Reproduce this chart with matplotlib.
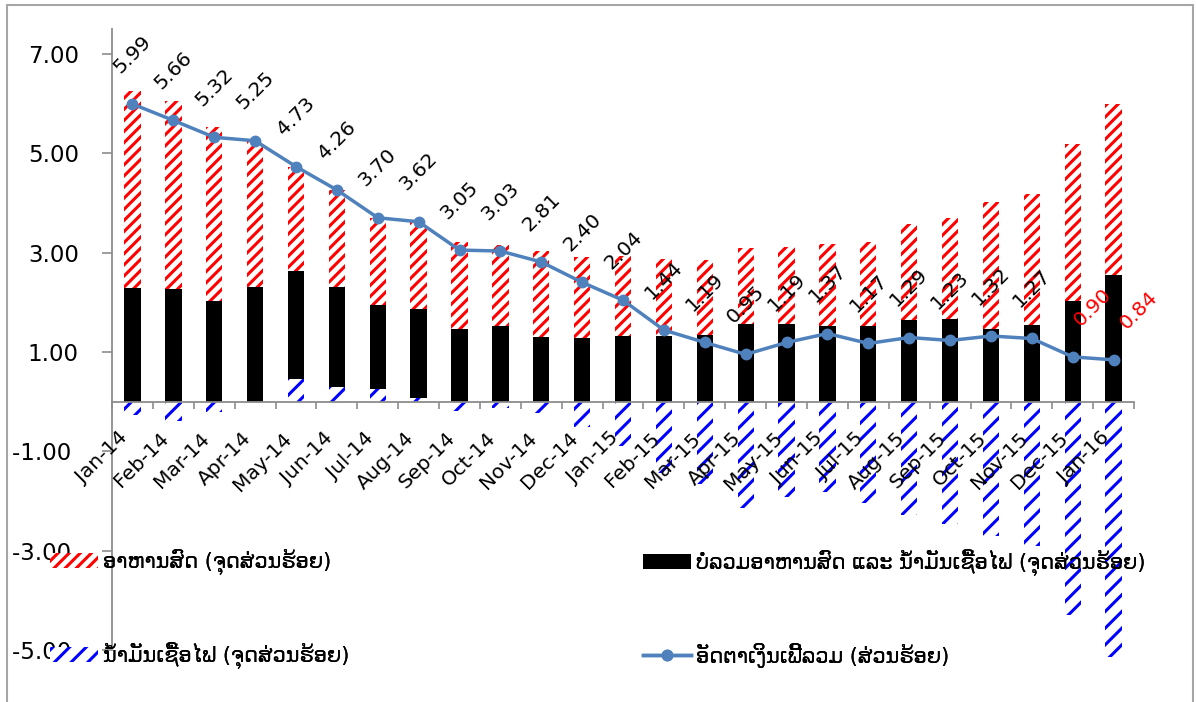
import matplotlib
matplotlib.use("Agg")
import matplotlib.pyplot as plt
import numpy as np
from matplotlib.patches import Rectangle
from matplotlib.transforms import ScaledTranslation

plt.rcParams['font.family'] = ['DejaVu Sans']
plt.rcParams['hatch.linewidth'] = 2.2

months = ['Jan-14', 'Feb-14', 'Mar-14', 'Apr-14', 'May-14', 'Jun-14', 'Jul-14',
          'Aug-14', 'Sep-14', 'Oct-14', 'Nov-14', 'Dec-14', 'Jan-15', 'Feb-15',
          'Mar-15', 'Apr-15', 'May-15', 'Jun-15', 'Jul-15', 'Aug-15', 'Sep-15',
          'Oct-15', 'Nov-15', 'Dec-15', 'Jan-16']
# contributions (percentage points)
food = [3.97, 3.78, 3.50, 2.94, 2.11, 1.94, 1.75, 1.75, 1.75, 1.62, 1.73, 1.63,
        1.61, 1.55, 1.49, 1.53, 1.55, 1.65, 1.69, 1.93, 2.03, 2.55, 2.63, 3.17, 3.45]
core = [2.29, 2.27, 2.03, 2.31, 2.16, 2.01, 1.69, 1.79, 1.47, 1.53, 1.31, 1.29,
        1.33, 1.33, 1.35, 1.57, 1.57, 1.53, 1.53, 1.65, 1.67, 1.47, 1.55, 2.02, 2.54]
fuel = [-0.28, -0.39, -0.21, 0.00, 0.46, 0.30, 0.26, 0.08, -0.18, -0.12, -0.23, -0.52,
        -0.90, -1.44, -1.65, -2.15, -1.93, -1.81, -2.05, -2.29, -2.47, -2.70, -2.91,
        -4.29, -5.15]
# headline inflation (percent)
headline = [5.99, 5.66, 5.32, 5.25, 4.73, 4.26, 3.70, 3.62, 3.05, 3.03, 2.81, 2.40,
            2.04, 1.44, 1.19, 0.95, 1.19, 1.37, 1.17, 1.29, 1.23, 1.32, 1.27, 0.90, 0.84]

yticks = [-5, -3, -1, 1, 3, 5, 7]
ytick_labels = ['-5.00 ', '-3.00 ', '-1.00 ', '1.00', '3.00', '5.00', '7.00']

lbl_food = 'ອາຫານສົດ (ຈຸດສ່ວນຮ້ອຍ)'
lbl_core = 'ບໍ່ລວມອາຫານສົດ ແລະ ນ້ຳມັນເຊື້ອໄຟ (ຈຸດສ່ວນຮ້ອຍ)'
lbl_fuel = 'ນ້ຳມັນເຊື້ອໄຟ (ຈຸດສ່ວນຮ້ອຍ)'
lbl_head = 'ອັດຕາເງິນເຟີ້ລວມ (ສ່ວນຮ້ອຍ)'

x = np.arange(len(months))
fuel_a = np.array(fuel)
core_a = np.array(core)
core_bottom = np.clip(fuel_a, 0, None)
food_bottom = core_bottom + core_a

fig = plt.figure(figsize=(11.97, 7.02), dpi=100)
ax = fig.add_axes([0.0936, 0.0741, 0.8538, 0.8846])
ax.set_axisbelow(False)

w = 0.4
b_fuel = ax.bar(x, fuel, w, facecolor='white', edgecolor='#0000FF', hatch='//',
                linewidth=0, zorder=2, clip_on=False)
b_core = ax.bar(x, core, w, bottom=core_bottom, color='black', linewidth=0, zorder=2)
b_food = ax.bar(x, food, w, bottom=food_bottom, facecolor='white', edgecolor='#FF0000',
                hatch='///', linewidth=0, zorder=2)
line, = ax.plot(x, headline, color='#4F81BD', lw=2.5, marker='o', ms=7.5,
                markeredgecolor='#4F81BD', zorder=4)

# data labels
label_dx = {23: 14, 24: 18}
for i, v in enumerate(headline):
    col = '#FF0000' if i >= 23 else 'black'
    ax.annotate(f'{v:.2f}', (x[i], v), xytext=(label_dx.get(i, 0), 36),
                textcoords='offset points', ha='center', va='center',
                rotation=45, fontsize=14.5, color=col, zorder=5)

ax.set_xlim(-0.5, len(months) - 0.5)
ax.set_ylim(-5, 7.5)

gray = '#8C8C8C'
for s in ['top', 'right']:
    ax.spines[s].set_visible(False)
ax.spines['left'].set_color(gray)
ax.spines['bottom'].set_color(gray)
ax.spines['left'].set_linewidth(1.3)
ax.spines['bottom'].set_linewidth(1.3)
ax.spines['bottom'].set_position(('data', 0))

ax.set_yticks(yticks)
ax.set_yticklabels(ytick_labels, fontsize=16.5)
ax.tick_params(axis='y', length=7, width=1.2, color=gray, pad=17)

ax.set_xticks(np.arange(-0.5, len(months), 1.0))
ax.set_xticklabels([])
ax.set_xticks(x, minor=True)
ax.set_xticklabels(months, minor=True, rotation=45, ha='right', va='top',
                   rotation_mode='anchor', fontsize=14.5)
ax.tick_params(axis='x', which='major', length=5, width=1.2, color=gray, direction='out')
ax.tick_params(axis='x', which='minor', length=0, pad=0)
off = ScaledTranslation(-0.14, -0.27, fig.dpi_scale_trans)
for t in ax.get_xticklabels(minor=True):
    t.set_transform(t.get_transform() + off)

# legends, one entry each
entries = [
    (b_food, lbl_food, 50 / 1197, 1 - 562 / 702),
    (b_fuel, lbl_fuel, 50 / 1197, 1 - 655 / 702),
    (b_core, lbl_core, 643 / 1197, 1 - 562 / 702),
    (line, lbl_head, 643 / 1197, 1 - 655 / 702),
]
for h, lab, lx, ly in entries:
    leg = fig.legend([h], [lab], loc='center left', bbox_to_anchor=(lx, ly),
                     frameon=False, fontsize=15, handlelength=2.3, handleheight=0.75,
                     handletextpad=0.25, borderpad=0, borderaxespad=0)
    fig.add_artist(leg)

# outer chart frame
fig.add_artist(Rectangle((7 / 1197, -0.02), 1186 / 1197, 1.02 - 5 / 702,
                         transform=fig.transFigure, fill=False,
                         edgecolor='#A6A6A6', lw=1.5))

fig.savefig('out.png', dpi=100)
